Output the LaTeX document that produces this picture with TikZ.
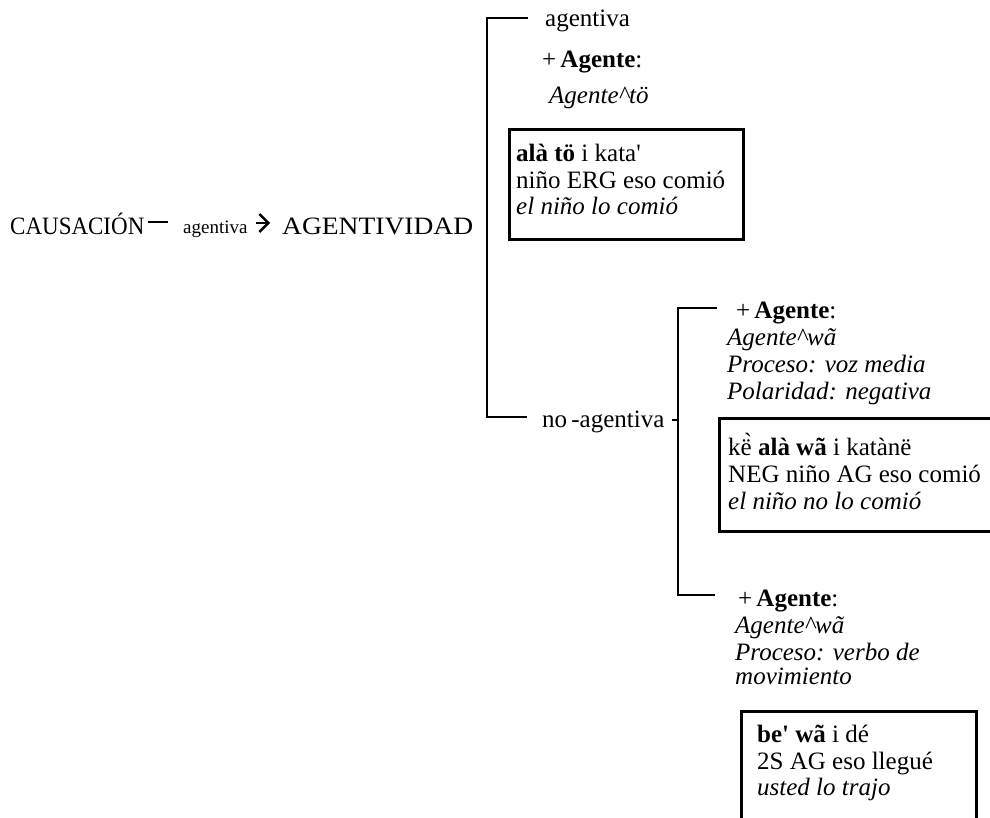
\documentclass[tikz,border=0pt]{standalone}
\usepackage{fontspec}
\setmainfont{Liberation Serif}
\newfontfamily\narrowfont[FakeStretch=0.92]{Liberation Serif}
\newfontfamily\widefont[FakeStretch=1.1]{Liberation Serif}
\usetikzlibrary{arrows.meta}
\begin{document}
\begin{tikzpicture}[x=1pt,y=-1pt,
  txt/.style={anchor=base west, inner sep=0pt, font=\fontsize{25}{28}\selectfont},
  small/.style={anchor=base west, inner sep=0pt, font=\fontsize{19}{22}\selectfont},
  tree/.style={line width=2.6pt},
  exbox/.style={draw, line width=2.6pt, anchor=north west, inner sep=0pt}
]
\useasboundingbox (0,0) rectangle (990,818);
\clip (0,0) rectangle (990,818);

% main row
\node[txt, font=\narrowfont\fontsize{25}{28}\selectfont] (cause) at (10,235) {CAUSACIÓN};
\node[small] (mid) at (183,234) {agentiva};
\node[txt, font=\widefont\fontsize{25}{28}\selectfont] (agv) at (282,235) {AGENTIVIDAD};
\draw[tree] ([xshift=3pt,yshift=13pt]cause.base east) -- ([xshift=-15pt,yshift=12pt]mid.base west);
\draw[line width=2.4pt,-{Straight Barb[length=9pt,width=18pt,line width=2.4pt]}]
  ([xshift=8pt,yshift=11pt]mid.base east) -- ([xshift=-12pt,yshift=12pt]agv.base west);

% first bracket
\coordinate (k1a) at (528,18);
\coordinate (k1t) at (487,18);
\coordinate (k1b) at (487,417);
\coordinate (k1c) at (527,417);
\draw[tree] (k1a) -- (k1t) -- (k1b) -- (k1c);

% agentive branch
\node[txt] (agtop) at (545,27) {agentiva};
\node[txt] (plus1) at (542,68) {+\,\textbf{Agente}:};
\node[txt] (ag1)   at (549,104) {\textit{Agente\textasciicircum tö}};
\node[exbox, minimum width=234pt, minimum height=110pt] (box1) at (508,128) {};
\node[txt] (b1l1) at (516,162) {\textbf{alà tö} i kata\textquotesingle};
\node[txt] (b1l2) at (516,189) {niño ERG eso comió};
\node[txt] (b1l3) at (516,215) {\textit{el niño lo comió}};

% non-agentive branch
\node[txt] (noag) at (542,427) {no\,-agentiva};
\coordinate (k2t) at (678,308);
\coordinate (k2b) at (678,595);
\coordinate (k2a) at (717,308);
\coordinate (k2c) at (715,595);
\draw[tree] ([xshift=7pt]noag.base east |- 0,420) -- (k2t |- 0,420);
\draw[tree] (k2a) -- (k2t) -- (k2b) -- (k2c);

\node[txt] (plus2) at (736,318) {+\,\textbf{Agente}:};
\node[txt] (agw1)  at (727,345) {\textit{Agente\textasciicircum wã}};
\node[txt] (proc1) at (727,372) {\textit{Proceso: voz media}};
\node[txt] (pol)   at (727,399) {\textit{Polaridad: negativa}};
\node[exbox, minimum width=300pt, minimum height=113pt] (box2) at (718,417) {};
\node[txt] (b2l1) at (728,455) {kë̀ \textbf{alà wã} i katànë};
\node[txt] (b2l2) at (728,482) {NEG niño AG eso comió};
\node[txt] (b2l3) at (728,509) {\textit{el niño no lo comió}};

\node[txt] (plus3) at (738,606) {+\,\textbf{Agente}:};
\node[txt] (agw2)  at (735,633) {\textit{Agente\textasciicircum wã}};
\node[txt] (proc2) at (735,660) {\textit{Proceso: verbo de}};
\node[txt] (mov)   at (735,684) {\textit{movimiento}};
\node[exbox, minimum width=235pt, minimum height=130pt] (box3) at (740,710) {};
\node[txt] (b3l1) at (757,742) {\textbf{be\textquotesingle{} wã} i dé};
\node[txt] (b3l2) at (757,769) {2S AG eso llegué};
\node[txt] (b3l3) at (757,795) {\textit{usted lo trajo}};
\end{tikzpicture}
\end{document}
